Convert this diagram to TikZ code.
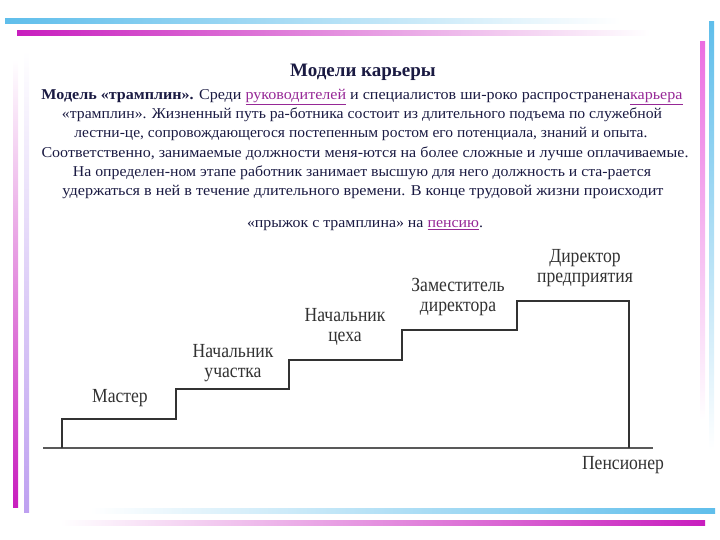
\documentclass[tikz,border=0pt]{standalone}
\usepackage{fontspec}
\setmainfont{Liberation Serif}
\usetikzlibrary{positioning}
\definecolor{inkc}{RGB}{26,26,66}
\definecolor{linkc}{RGB}{150,40,150}
\definecolor{barblue}{RGB}{95,190,235}
\definecolor{barpink}{RGB}{200,30,190}
\definecolor{barrose}{RGB}{235,110,225}
\definecolor{barlilac}{RGB}{190,160,240}
\definecolor{stairc}{RGB}{50,50,50}
\newcommand{\reflink}[1]{\textcolor{linkc}{\underline{#1}}}
% stretch one printed line to the width it has on the slide
\newcommand{\fitline}[2]{\resizebox{#1pt}{\height}{#2}}
% narrow letters of the ladder labels
\newcommand{\narrow}[1]{\scalebox{0.88}[1]{#1}}
\tikzset{
  txt/.style={font=\fontsize{15}{17}\selectfont, text=inkc, inner sep=0pt, anchor=base},
  steplbl/.style={font=\fontsize{20}{20}\selectfont, text=stairc, align=center, inner sep=0pt},
  stair/.style={draw=stairc, line width=1.5pt},
  ground/.style={draw=gray!70!black, line width=2.2pt},
}
\begin{document}
\begin{tikzpicture}[x=1pt,y=-1pt]
\useasboundingbox (0,0) rectangle (720,540);
% frame bars
\shade[left color=barblue, right color=white] (5,19) rectangle (620,24);
\shade[left color=barpink, right color=white] (17,31) rectangle (650,36);
\shade[top color=barblue, bottom color=white] (709,22) rectangle (714,450);
\shade[top color=barrose, bottom color=white] (700,42) rectangle (705,420);
\shade[top color=white, bottom color=barpink] (13,60) rectangle (18,507);
\shade[top color=white, bottom color=barlilac] (24,50) rectangle (29,512);
\shade[left color=white, right color=barblue] (90,508) rectangle (715,513);
\shade[left color=white, right color=barpink] (60,520) rectangle (705,525);
% text
\node[txt, font=\fontsize{19}{21}\selectfont\bfseries] (title) at (363,77) {Модели карьеры};
\node[txt] (l1) at (362,100) {\fitline{641}{\textbf{Модель «трамплин».} Среди \reflink{руководителей} и специалистов ши-роко распространена\reflink{карьера}}};
\node[txt] (l2) at (362,119) {\fitline{600}{«трамплин». Жизненный путь ра-ботника состоит из длительного подъема по служебной}};
\node[txt] (l3) at (361,138) {\fitline{573}{лестни-це, сопровождающегося постепенным ростом его потенциала, знаний и опыта.}};
\node[txt] (l4) at (365,158) {\fitline{647}{Соответственно, занимаемые должности меня-ются на более сложные и лучше оплачиваемые.}};
\node[txt] (l5) at (362,177) {\fitline{578}{На определен-ном этапе работник занимает высшую для него должность и ста-рается}};
\node[txt] (l6) at (363,196) {\fitline{601}{удержаться в ней в течение длительного времени. В конце трудовой жизни происходит}};
\node[txt] (l7) at (365,228) {\fitline{236}{«прыжок с трамплина» на \reflink{пенсию}.}};
% career ladder
\draw[ground] (43,448) -- (653,448);
\draw[stair] (62,448) |- (176,419) |- (289,389) |- (402,360) |- (517,330) |- (629,301) -- (629,448);
\node[steplbl] (master) at (120,398) {\narrow{Мастер}};
\node[steplbl] (uchastok) at (233,363) {\narrow{Начальник}\\\narrow{участка}};
\node[steplbl] (tseh) at (345,327) {\narrow{Начальник}\\\narrow{цеха}};
\node[steplbl] (zam) at (458,297) {\narrow{Заместитель}\\\narrow{директора}};
\node[steplbl] (dir) at (585,268) {\narrow{Директор}\\\narrow{предприятия}};
\node[steplbl] (pens) at (623,465) {\narrow{Пенсионер}};
\end{tikzpicture}
\end{document}
